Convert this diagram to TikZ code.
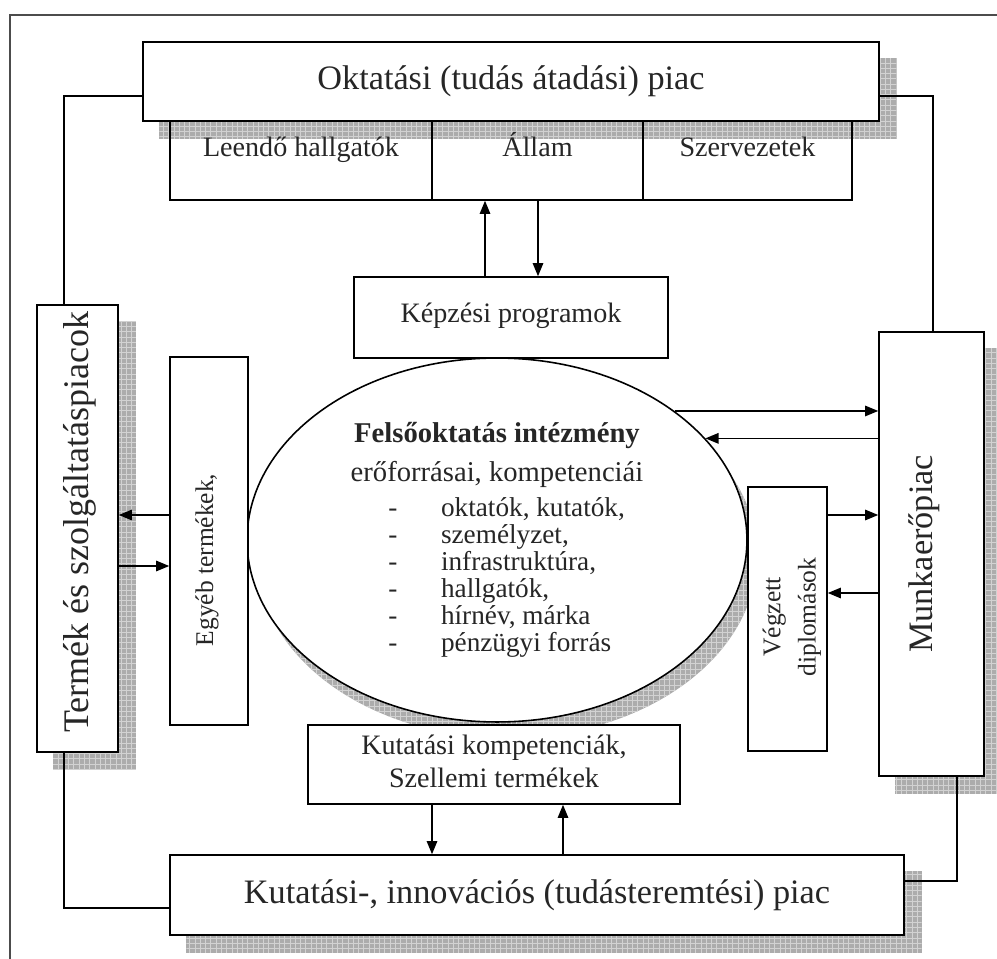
\documentclass[tikz,border=0pt]{standalone}
\usepackage{fontspec}
\setmainfont{Liberation Serif}
\usepackage{graphicx}
\usetikzlibrary{shapes.geometric,patterns,backgrounds,arrows.meta}
\begin{document}
\begin{tikzpicture}[x=0.02cm,y=-0.02cm,
 box/.style={draw, fill=white, line width=0.9pt, inner sep=0pt, text=black!85},
 cell/.style={draw, line width=0.9pt, inner sep=0pt},
 shadowfill/.style={fill=gray!65},
 shadowgrid/.style={pattern=grid, pattern color=gray!35},
 conn/.style={line width=0.8pt},
 arr/.style={line width=0.8pt, -{Triangle[length=7.5pt,width=6pt]}},
 big/.style={font=\fontsize{19.5}{23}\selectfont},
 mid/.style={font=\fontsize{16}{18}\selectfont},
 txt/.style={inner sep=0pt, text=black!85}
]
\useasboundingbox (0,0) rectangle (997,959);

% outer frame
\draw[line width=1.1pt, black!70] (997,15) -- (10,15) -- (10,959);

% institution shadow (drawn first, under everything)
\fill[gray!65] (507,556) ellipse [x radius=5cm, y radius=3.64cm];
\fill[pattern=grid, pattern color=gray!35] (507,556) ellipse [x radius=5cm, y radius=3.64cm];

% top market
\node[box, big, minimum width=14.72cm, minimum height=1.58cm] (top) at (511,81.5) {\raisebox{4pt}{Oktatási (tudás átadási) piac}};
% row cells
\node[cell, minimum width=5.24cm, minimum height=1.58cm] (leendo) at (301,160.5) {};
\node[cell, minimum width=4.22cm, minimum height=1.58cm] (allam) at (537.5,160.5) {};
\node[cell, minimum width=4.18cm, minimum height=1.58cm] (szerv) at (747.5,160.5) {};
\node[txt, mid, anchor=base] (leendotxt) at (301,157) {Leendő hallgatók};
\node[txt, mid, anchor=base] (allamtxt) at (537.5,157) {Állam};
\node[txt, mid, anchor=base] (szervtxt) at (747.5,157) {Szervezetek};

% programs
\node[box, font=\fontsize{16}{18}\selectfont, minimum width=6.28cm, minimum height=1.62cm] (kepz) at (511,317.5) {\raisebox{6pt}{Képzési programok}};

% institution
\node[box, ellipse, minimum width=10cm, minimum height=7.28cm] (inst) at (497,540) {};
\node[txt, align=center, font=\fontsize{16.3}{22.5}\selectfont] (insttitle) at (497,455) {\textbf{Felsőoktatás intézmény}\\erőforrásai, kompetenciái};
\node[txt, anchor=north west, font=\fontsize{15.5}{15.3}\selectfont] (instlist) at (388,497)
{\begin{tabular}{@{}p{30pt}@{}l@{}}
- & oktatók, kutatók,\\
- & személyzet,\\
- & infrastruktúra,\\
- & hallgatók,\\
- & hírnév, márka\\
- & pénzügyi forrás
\end{tabular}};

% side markets
\node[box, minimum width=2.1cm, minimum height=8.88cm] (munka) at (931.5,554) {};
\node[txt, font=\fontsize{19.5}{23}\selectfont] (munkatxt) at (924,554) {\rotatebox{90}{Munkaerőpiac}};
\node[box, minimum width=1.62cm, minimum height=8.94cm] (termek) at (77.5,528.5) {};
\node[txt, font=\fontsize{20.5}{23}\selectfont] (termektxt) at (80,522) {\rotatebox{90}{Termék és szolgáltatáspiacok}};

% inner side boxes
\node[box, minimum width=1.56cm, minimum height=7.36cm] (egyeb) at (209,541) {};
\node[txt, font=\fontsize{14.5}{18}\selectfont] (egyebtxt) at (207,560) {\rotatebox{90}{Egyéb termékek,}};
\node[box, minimum width=1.58cm, minimum height=5.28cm] (vegz) at (787.5,619) {};
\node[txt, font=\fontsize{14.5}{20}\selectfont] (vegztxt) at (791,617) {\rotatebox{90}{\begin{tabular}{@{}c@{}}Végzett\\diplomások\end{tabular}}};

% research competences
\node[box, align=center, font=\fontsize{16}{19}\selectfont, minimum width=7.44cm, minimum height=1.58cm] (kutkomp) at (494,764.5) {\raisebox{2pt}{\begin{tabular}{@{}c@{}}Kutatási kompetenciák,\\Szellemi termékek\end{tabular}}};

% bottom market
\node[box, big, minimum width=14.68cm, minimum height=1.6cm] (bottom) at (537,895) {Kutatási-, innovációs (tudásteremtési) piac};

% shadows
\begin{pgfonlayer}{background}
\foreach \n in {top,termek,munka,bottom}{
  \fill[shadowfill] ([shift={(17,17)}]\n.south west) rectangle ([shift={(17,17)}]\n.north east);
  \fill[shadowgrid] ([shift={(17,17)}]\n.south west) rectangle ([shift={(17,17)}]\n.north east);
}
\end{pgfonlayer}

% frame connectors
\draw[conn] (top.west |- 0,96) -| (termek.north -| 64,0);
\draw[conn] (top.east |- 0,96) -| (munka.north -| 933,0);
\draw[conn] (termek.south -| 64,0) |- (bottom.west |- 0,908);
\draw[conn] (munka.south -| 957,0) |- (bottom.east |- 0,881);

% arrows
\draw[arr] (kepz.north -| 485,0) -- (allam.south -| 485,0);
\draw[arr] (allam.south -| 538,0) -- (kepz.north -| 538,0);
\draw[arr] (inst.36.6) -- (inst.36.6 -| munka.west);
\draw[arr] (munka.west |- inst.26.9) -- (inst.26.9);
\draw[arr] (vegz.east |- 0,515) -- (munka.west |- 0,515);
\draw[arr] (munka.west |- 0,593) -- (vegz.east |- 0,593);
\draw[arr] (egyeb.west |- 0,515) -- (termek.east |- 0,515);
\draw[arr] (termek.east |- 0,566) -- (egyeb.west |- 0,566);
\draw[arr] (kutkomp.south -| 432,0) -- (bottom.north -| 432,0);
\draw[arr] (bottom.north -| 563,0) -- (kutkomp.south -| 563,0);
\end{tikzpicture}
\end{document}
